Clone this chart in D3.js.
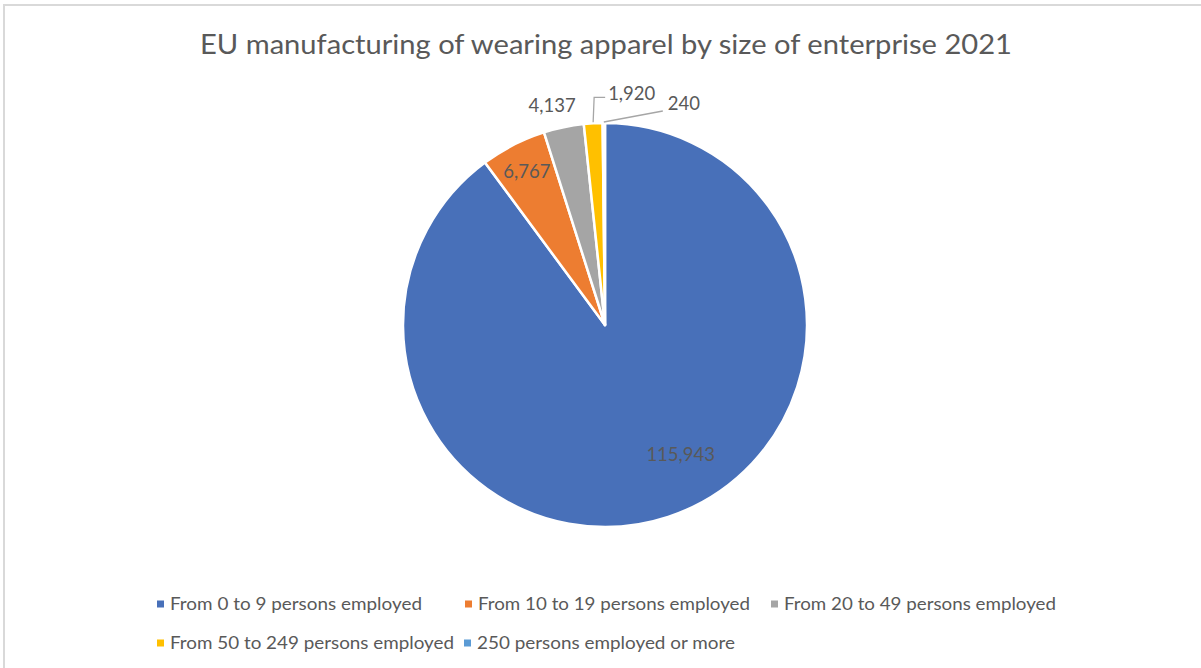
<!DOCTYPE html>
<html><head><meta charset="utf-8">
<script src="https://cdn.jsdelivr.net/npm/d3@7"></script>
<style>body{margin:0;background:#fff;} svg{display:block;} text{font-family:Lato,"Open Sans",sans-serif;fill:#595959;}</style>
</head><body>
<svg id="c" width="1201" height="668"></svg>
<script>
const categories = ["From 0 to 9 persons employed","From 10 to 19 persons employed","From 20 to 49 persons employed","From 50 to 249 persons employed","250 persons employed or more"];
const values = [115943, 6767, 4137, 1920, 240];
const colors = ["#4870B9","#ED7D31","#A5A5A5","#FFC000","#5B9BD5"];
const title = "EU manufacturing of wearing apparel by size of enterprise 2021";

const svg = d3.select("#c");
svg.append("rect").attr("x",4).attr("y",5).attr("width",1300).attr("height",800)
  .attr("fill","#fff").attr("stroke","#d9d9d9").attr("stroke-width",2);

svg.append("text").attr("x",606).attr("y",54).attr("text-anchor","middle")
  .attr("font-size",26).attr("textLength",812).attr("lengthAdjust","spacingAndGlyphs").text(title);

const cx=605, cy=325, R=202;
const g = svg.append("g").attr("transform",`translate(${cx},${cy})`);
const data = categories.map((c,i)=>({c, v:values[i], col:colors[i]}));
const pie = d3.pie().sort(null).value(d=>d.v);
const arcs = pie(data);
const arc = d3.arc().innerRadius(0).outerRadius(R);
g.selectAll("path").data(arcs).join("path").attr("d",arc)
  .attr("fill",d=>d.data.col).attr("stroke","#fff").attr("stroke-width",2.5).attr("stroke-linejoin","round");

const fmt = d3.format(",");
const pt = (a,r)=>[Math.sin(a)*r, -Math.cos(a)*r];
const mid = d=>(d.startAngle+d.endAngle)/2;
const FS = 18.5;

{ const d=arcs[0]; const [x,y]=pt(Math.PI*149.7/180,150);
  g.append("text").attr("x",x).attr("y",y).attr("dy","0.35em").attr("text-anchor","middle").attr("font-size",FS).text(fmt(d.data.v)); }
{ const d=arcs[1]; const [x,y]=pt(mid(d),172);
  g.append("text").attr("x",x).attr("y",y).attr("dy","0.35em").attr("text-anchor","middle").attr("font-size",FS).text(fmt(d.data.v)); }
{ const d=arcs[2]; const [x,y]=pt(mid(d)-0.03,226);
  g.append("text").attr("x",x).attr("y",y).attr("dy","0.35em").attr("text-anchor","middle").attr("font-size",FS).text(fmt(d.data.v)); }
{ const d=arcs[3]; const [x0,y0]=pt(mid(d),R+1);
  g.append("path").attr("d",`M${x0},${y0} L${x0+1},${y0-25} L${x0+12},${y0-25}`).attr("fill","none").attr("stroke","#a6a6a6").attr("stroke-width",1.3);
  g.append("text").attr("x",x0+15).attr("y",y0-29).attr("dy","0.35em").attr("font-size",FS).text(fmt(d.data.v)); }
{ const d=arcs[4]; const [x0,y0]=pt(mid(d),R+1);
  g.append("path").attr("d",`M${x0},${y0} L${x0+59},${y0-11}`).attr("fill","none").attr("stroke","#a6a6a6").attr("stroke-width",1.3);
  g.append("text").attr("x",x0+64).attr("y",y0-18).attr("dy","0.35em").attr("font-size",FS).text(fmt(d.data.v)); }

const leg = [
  {x:157,y:604,w:252},{x:465,y:604,w:272},{x:771,y:604,w:272},
  {x:157,y:643,w:284},{x:464,y:643,w:258}
];
data.forEach((d,i)=>{
  const L=leg[i];
  svg.append("rect").attr("x",L.x).attr("y",L.y-3.5).attr("width",7).attr("height",7).attr("fill",d.col);
  svg.append("text").attr("x",L.x+13).attr("y",L.y).attr("dy","0.35em").attr("font-size",17)
    .attr("textLength",L.w).attr("lengthAdjust","spacingAndGlyphs").text(d.c);
});
</script>
</body></html>
